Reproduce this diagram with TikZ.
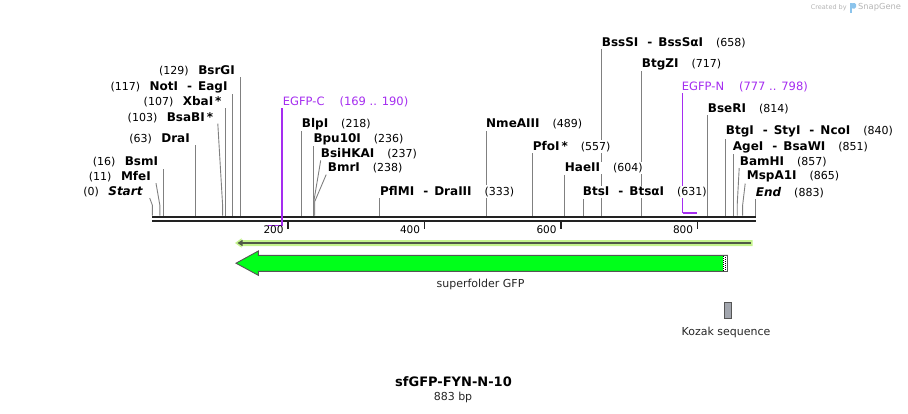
\documentclass[tikz,border=0pt]{standalone}
\usepackage{fontspec}
\setmainfont{DejaVu Sans}
\usetikzlibrary{arrows.meta}
\pgfdeclarelayer{bg}
\pgfsetlayers{bg,main}

\definecolor{sitegray}{RGB}{128,128,128}
\definecolor{axisblack}{RGB}{34,34,34}
\definecolor{featpurple}{RGB}{165,45,240}
\definecolor{gfpgreen}{RGB}{0,255,26}
\definecolor{palegreen}{RGB}{196,244,140}
\definecolor{orfdark}{RGB}{80,90,70}
\definecolor{kozakgray}{RGB}{162,166,174}
\definecolor{outlinegray}{RGB}{85,85,85}
\definecolor{logogray}{RGB}{180,180,180}
\definecolor{logoblue}{RGB}{140,196,236}

\newcommand{\enz}[2]{{\bfseries\fontsize{12}{13}\selectfont #1}\hspace{13pt}(#2)}
\newcommand{\enzl}[2]{(#1)\hspace{9.5pt}{\bfseries\fontsize{12}{13}\selectfont #2}}
\newcommand{\dsep}{\hspace{9pt}-\hspace{6pt}}

\tikzset{
  lab/.style={font=\fontsize{11}{13}\selectfont, inner xsep=0pt, inner ysep=1pt, fill=white, anchor=west},
  labl/.style={lab, anchor=east},
  featname/.style={lab, text=featpurple, font=\fontsize{11.5}{13}\selectfont},
  site/.style={draw=sitegray, line width=0.9pt},
  axisline/.style={draw=axisblack, line width=2.4pt},
  tickmark/.style={draw=axisblack, line width=1.4pt},
  ticknum/.style={font=\fontsize{10.5}{12}\selectfont, inner sep=0pt, anchor=east},
  featline/.style={draw=featpurple, line width=1.3pt},
  bigarrow/.style={fill=gfpgreen, draw=outlinegray, line width=0.9pt},
  featlab/.style={font=\fontsize{11}{13}\selectfont, text=black!85},
}

\begin{document}
\begin{tikzpicture}[x=1pt,y=-1pt]
  \useasboundingbox (0,0) rectangle (908,413);
  % cut sites on the sequence
  \foreach \p in {0,11,16,63,103,107,117,129,218,236,237,238,333,489,557,604,631,658,717,814,840,851,857,865,883}
    \coordinate (s\p) at ({152.3+0.6825*\p},215.5);
  \coordinate (c169) at ({152.3+0.6825*169},225.7);
  \coordinate (c190) at ({152.3+0.6825*190},225.7);
  \coordinate (n777) at ({152.3+0.6825*777},212.7);
  \coordinate (n798) at ({152.3+0.6825*798},212.7);

  \node[labl] (startlab) at (142.7,191.7) {\enzl{0}{\itshape Start}};
  \node[labl] (mfei) at (151,176.7) {\enzl{11}{MfeI}};
  \node[labl] (bsmi) at (158.3,162.3) {\enzl{16}{BsmI}};
  \node[labl] (drai) at (190,139) {\enzl{63}{DraI}};
  \node[labl] (bsabi) at (213.3,117.3) {\enzl{103}{BsaBI\,*}};
  \node[labl] (xbai) at (221.7,101.7) {\enzl{107}{XbaI\,*}};
  \node[labl] (noti) at (227.7,87.3) {\enzl{117}{NotI\dsep EagI}};
  \node[labl] (bsrgi) at (235,70.7) {\enzl{129}{BsrGI}};

  \node[featname] (egfpc) at (282.7,101.7) {EGFP-C\hspace{15pt}(169 .. 190)};
  \node[lab] (blpi) at (301.7,124.3) {\enz{BlpI}{218}};
  \node[lab] (bpu10i) at (313.3,139) {\enz{Bpu10I}{236}};
  \node[lab] (bsihkai) at (320.7,154) {\enz{BsiHKAI}{237}};
  \node[lab] (bmri) at (327.7,168.3) {\enz{BmrI}{238}};
  \node[lab] (pflmi) at (380,191.7) {\enz{PflMI\dsep DraIII}{333}};
  \node[lab] (nmeaiii) at (486,124.3) {\enz{NmeAIII}{489}};
  \node[lab] (pfoi) at (532.7,146.7) {\enz{PfoI\,*}{557}};
  \node[lab] (haeii) at (564.7,168.3) {\enz{HaeII}{604}};
  \node[lab] (btsi) at (582.7,192.3) {\enz{BtsI\dsep BtsαI}{631}};
  \node[lab] (bsssi) at (601.7,42.3) {\enz{BssSI\dsep BssSαI}{658}};
  \node[lab] (btgzi) at (641.7,64) {\enz{BtgZI}{717}};
  \node[featname] (egfpn) at (681.7,86.7) {EGFP-N\hspace{15pt}(777 .. 798)};
  \node[lab] (bseri) at (707.7,109) {\enz{BseRI}{814}};
  \node[lab] (btgi) at (725.7,131.7) {\enz{BtgI\dsep StyI\dsep NcoI}{840}};
  \node[lab] (agei) at (732.7,147.3) {\enz{AgeI\dsep BsaWI}{851}};
  \node[lab] (bamhi) at (739.7,161.7) {\enz{BamHI}{857}};
  \node[lab] (mspa1i) at (746.7,176.7) {\enz{MspA1I}{865}};
  \node[lab] (endlab) at (755.7,192.3) {\enz{\itshape End}{883}};

  \begin{pgfonlayer}{bg}
    \draw[axisline] (152,216.8) -- (755.5,216.8);
    \draw[axisline] (152,221.2) -- (755.5,221.2);
    \draw[site] (s0) -- ++(0,-10.5) -- ([xshift=7pt]startlab.south east);
    \draw[site] (s11) -- ++(0,-10.5) -- ([xshift=5pt]mfei.south east);
    \draw[site] (s103) -- ++(0,-10.5) -- ([xshift=4.5pt]bsabi.south east);
    \foreach \p/\nd in {16/bsmi,63/drai,107/xbai,117/noti,129/bsrgi,218/blpi,236/bpu10i,333/pflmi,489/nmeaiii,557/pfoi,604/haeii,631/btsi,658/bsssi,717/btgzi,814/bseri,840/btgi,851/agei,883/endlab}
      \draw[site] (s\p) -- (s\p |- \nd.south);
    \draw[site] (s237) -- ++(0,-15.5) -- (bsihkai.south west);
    \draw[site] (s238) -- ++(0,-14) -- ([xshift=-1.5pt]bmri.south west);
    \draw[site] (s857) -- ++(0,-10.5) -- ([xshift=-0.5pt]bamhi.south west);
    \draw[site] (s865) -- ++(0,-10.5) -- ([xshift=-1.5pt]mspa1i.south west);
    \draw[featline] (c190 |- egfpc.south) -- (c190) -- (c169);
    \draw[featline, line width=2pt] (n777) -- (n798);
    \draw[featline] (n777 |- egfpn.south) -- (n777);
  \end{pgfonlayer}

  \foreach \t in {200,400,600,800} {
    \draw[tickmark] ({151.3+0.6825*\t},222) -- ({151.3+0.6825*\t},229.3);
    \node[ticknum] (t\t) at ({147.3+0.6825*\t},229.3) {\t};
  }

  % features
  \fill[palegreen] (235,243) -- (241.5,238.3) -- (241.5,240.1) -- (752.7,240.1) -- (752.7,246) -- (241.5,246) -- (241.5,247.7) -- cycle;
  \draw[orfdark, line width=2.3pt, -{Triangle[length=5pt,width=6pt]}] (750.7,243) -- (237.5,243);

  \draw[bigarrow] (236,263.2) -- (258.3,251) -- (258.3,255.3) -- (727.5,255.3) -- (727.5,271.3) -- (258.3,271.3) -- (258.3,275.3) -- cycle;
  \fill[white] (722.7,256) rectangle (726.9,270.6);
  \draw[black, line width=1pt, dash pattern=on 1pt off 1pt] (723.4,256) -- (723.4,270.6);
  \draw[black, line width=1pt, dash pattern=on 1pt off 1pt, dash phase=1pt] (725.6,256) -- (725.6,270.6);
  \node[featlab] (gfplab) at (480.5,284.5) {superfolder GFP};

  \draw[fill=kozakgray, draw=outlinegray, line width=0.8pt] (724.2,302) rectangle (731.4,318);
  \node[featlab] (kozlab) at (726,332.3) {Kozak sequence};

  \node[font=\fontsize{13}{15}\selectfont\bfseries] (title) at (453.5,381.7) {sfGFP-FYN-N-10};
  \node[font=\fontsize{11}{13}\selectfont, text=black!85] (len) at (453,397.3) {883 bp};

  % logo
  \node[font=\fontsize{6.5}{8}\selectfont, text=logogray, anchor=west, inner sep=0pt] (cby) at (810.7,7.5) {Created by};
  \fill[logoblue] (850.3,3) rectangle (852.3,12.5);
  \fill[logoblue, rounded corners=1.5pt] (851,3) rectangle (856,8.5);
  \node[font=\fontsize{8.3}{9}\selectfont, text=logogray, anchor=west, inner sep=0pt] (sg) at (858,7.3) {SnapGene};
\end{tikzpicture}
\end{document}
